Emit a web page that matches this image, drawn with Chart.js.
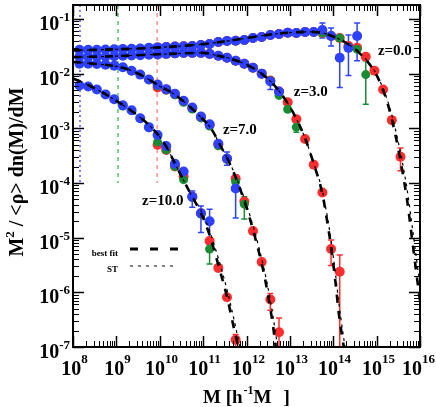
<!DOCTYPE html>
<html>
<head>
<meta charset="utf-8">
<title>halo mass function</title>
<script src="https://cdn.jsdelivr.net/npm/chart.js@4.4.1/dist/chart.umd.min.js"></script>
<style>
	html, body { margin: 0; padding: 0; background: #fff; }
	canvas { display: block; }
</style>
</head>
<body>
<canvas id="massChart" width="436" height="407"></canvas>
<script>
// mass bins [h^-1 Msun], 0.2 dex wide
const massBins = [
	1.41e8, 2.24e8, 3.55e8, 5.62e8, 8.91e8,
	1.41e9, 2.24e9, 3.55e9, 5.62e9, 8.91e9,
	1.41e10, 2.24e10, 3.55e10, 5.62e10, 8.91e10,
	1.41e11, 2.24e11, 3.55e11, 5.62e11, 8.91e11,
	1.41e12, 2.24e12, 3.55e12, 5.62e12, 8.91e12,
	1.41e13, 2.24e13, 3.55e13, 5.62e13, 8.91e13,
	1.41e14, 2.24e14, 3.55e14, 5.62e14, 8.91e14,
	1.41e15, 2.24e15, 3.55e15,
]

// resolution limits of the three boxes (blue, green, red)
const resolutionMass = [1.45e8, 1.09e9, 8.7e9]

// z = 0
const z0Red = [null, null, null, null, null, null, null, null, null,
	0.0302, 0.0308, 0.0313, 0.0316, 0.0321, 0.0335, 0.0349, 0.0380, 0.0396, 0.0398, 0.0413,
	0.0449, 0.0468, 0.0509, 0.0531, 0.0562, 0.0553, 0.0577, 0.0577, 0.0553, 0.0488,
	0.0449, 0.0321, 0.0296, 0.0203, 0.0113, 0.00513, 0.00141, 0.000301]
const z0Green = [null, null, null, null, null,
	0.0282, 0.0284, 0.0288, 0.0296, 0.0302, 0.0308, 0.0313, 0.0316, 0.0321, 0.0335,
	0.0349, 0.0380, 0.0396, 0.0398, 0.0413, 0.0449, 0.0468, 0.0509, 0.0531, 0.0562,
	0.0553, 0.0577, 0.0577, 0.0553, 0.0488, 0.0449, 0.0300, 0.0280, 0.0096]
const z0Blue = [0.0272, 0.0272, 0.0272, 0.0275, 0.0278,
	0.0282, 0.0284, 0.0288, 0.0296, 0.0302, 0.0308, 0.0313, 0.0316, 0.0321, 0.0335,
	0.0349, 0.0380, 0.0396, 0.0398, 0.0413, 0.0449, 0.0468, 0.0509, 0.0531, 0.0562,
	0.0553, 0.0577, 0.0577, 0.0627, 0.0488, 0.0195, 0.0296, 0.0488]

// z = 3
const z3Red = [null, null, null, null, null, null, null, null, null,
	0.0225, 0.0230, 0.0235, 0.0240, 0.0240, 0.0240, 0.0230, 0.0212, 0.0195, 0.0172, 0.0152,
	0.0128, 0.0100, 0.0075, 0.00472, 0.00299, 0.00147, 0.000637, 0.000215, 6.7e-5, 6.21e-6,
	2.38e-6]
const z3Green = [null, null, null, null, null,
	0.0212, 0.0214, 0.0218, 0.0222, 0.0225, 0.0230, 0.0235, 0.0240, 0.0240, 0.0240,
	0.0230, 0.0212, 0.0195, 0.0172, 0.0152, 0.0128, 0.0100, 0.0074, 0.0040, 0.00223,
	0.00105]
const z3Blue = [0.0203, 0.0203, 0.0203, 0.0204, 0.0208,
	0.0212, 0.0214, 0.0218, 0.0222, 0.0225, 0.0230, 0.0235, 0.0240, 0.0240, 0.0240,
	0.0230, 0.0212, 0.0195, 0.0172, 0.0152, 0.0128, 0.0100, 0.0072, 0.0047]

// z = 7
const z7Red = [null, null, null, null, null, null, null, null, null,
	0.0056, 0.0051, 0.0042, 0.00311, 0.00232, 0.0016, 0.00114, 0.00050, 0.000277, 0.00012,
	4.6e-5, 1.32e-5, 3.6e-6, 7.4e-7, 1.86e-7]
const z7Green = [null, null, null, null, null,
	0.0131, 0.0113, 0.0096, 0.0077, 0.0060, 0.0050, 0.0041, 0.0030, 0.00225, 0.00155,
	0.0011, 0.00048, 0.00027, 0.000105, 4.1e-5]
const z7Blue = [0.0152, 0.0152, 0.0150, 0.0146, 0.0140,
	0.0131, 0.0113, 0.0096, 0.0078, 0.0063, 0.0052, 0.0043, 0.0032, 0.0024, 0.00165,
	0.00118, 0.00052, 0.00028, 7.9e-5]

// z = 10
const z10Red = [null, null, null, null, null, null, null, null, null,
	0.0005, 0.000403, 0.0002, 0.000132, 5.6e-5, 2.8e-5, 8.7e-6, 2.8e-6, 8.1e-7, 1.35e-7]
const z10Green = [null, null, null, null, null,
	0.00255, 0.0021, 0.0015, 0.00102, 0.00056, 0.000403, 0.0002, 0.000115, 5.4e-5, 2.7e-5,
	6.2e-6]
const z10Blue = [0.00607, 0.00581, 0.00513, 0.00417, 0.00339,
	0.00263, 0.00214, 0.00153, 0.00105, 0.000753, 0.000476, 0.000224, 0.000162, 5.6e-5, 2.8e-5,
	2.0e-5]

// error bars: [bin, upper, lower]
const z0RedErr = [[36, 0.0016, 0.00125], [37, 4.37e-4, 1.68e-4]]
const z0GreenErr = [[30, 0.050, 0.040], [33, 0.0172, 0.00274]]
const z0BlueErr = [[24, 0.060, 0.052], [28, 0.084, 0.0449], [29, 0.068, 0.0321], [30, 0.0413, 0.00557], [31, 0.0509, 0.0092], [32, 0.084, 0.0172]]
const z3RedErr = [[29, 9.1e-6, 3.1e-6], [30, 4.8e-6, 5e-8]]
const z3GreenErr = [[25, 0.00127, 0.00085]]
const z3BlueErr = [[22, 0.0081, 0.0051]]
const z7RedErr = [[22, 9.5e-7, 4.7e-7], [23, 3.4e-7, 5e-8]]
const z7GreenErr = [[19, 5.6e-5, 2.2e-5]]
const z7BlueErr = [[17, 0.00037, 0.00021], [18, 0.00014, 2.3e-5]]
const z10RedErr = [[18, 1.7e-7, 5e-8]]
const z10GreenErr = [[15, 8.7e-6, 3.3e-6]]
const z10BlueErr = [[13, 7.1e-5, 3.6e-5], [14, 3.8e-5, 1.24e-5], [15, 3.3e-5, 7.6e-6]]

// best fit and Sheth-Tormen curves
const fitZ0Mass = [1e8, 3.16e8, 1e9, 3.16e9, 1e10, 3.16e10, 1e11, 3.16e11, 1e12, 3.16e12, 1e13, 2.51e13,
	5.01e13, 1e14, 2e14, 3.98e14, 7.94e14, 1.26e15, 2e15, 3.16e15, 5.01e15, 6.76e15, 8.51e15, 1e16]
const fitZ0 = [0.0266, 0.0272, 0.0279, 0.0288, 0.0302, 0.0320, 0.0347, 0.0389, 0.0447, 0.0513, 0.0562, 0.0582,
	0.0562, 0.0479, 0.0363, 0.0240, 0.0126, 0.0063, 0.00209, 4.17e-4, 5.0e-5, 7.9e-6, 1.86e-6, 7.1e-7]
const stZ0 = [0.0266, 0.0272, 0.0279, 0.0288, 0.0302, 0.0320, 0.0347, 0.0389, 0.0447, 0.0513, 0.0562, 0.0582,
	0.0562, 0.0479, 0.0363, 0.0242, 0.0130, 0.0066, 0.0024, 5.6e-4, 7.9e-5, 1.41e-5, 3.5e-6, 1.41e-6]

const fitZ3Mass = [1e8, 1e9, 1e10, 3.16e10, 1e11, 2e11, 3.98e11, 7.94e11, 1.58e12, 3.16e12, 6.31e12, 1.26e13,
	2.24e13, 3.55e13, 5.62e13, 7.59e13, 8.91e13, 1.12e14, 1.35e14, 1.58e14, 1.86e14, 2.24e14]
const fitZ3 = [0.0200, 0.0209, 0.0226, 0.0234, 0.0240, 0.0216, 0.0191, 0.0158, 0.0120, 0.00794, 0.00427, 0.00178,
	6.6e-4, 2.24e-4, 6.3e-5, 1.58e-5, 6.8e-6, 1.58e-6, 4.0e-7, 1.66e-7, 7.1e-8, 1.5e-8]
const stZ3 = [0.0200, 0.0209, 0.0226, 0.0234, 0.0240, 0.0216, 0.0191, 0.0158, 0.0120, 0.00794, 0.00427, 0.00178,
	6.6e-4, 2.3e-4, 7.1e-5, 2.0e-5, 8.9e-6, 2.24e-6, 6.3e-7, 2.5e-7, 1.0e-7, 3.0e-8]

const fitZ7Mass = [1e8, 3.16e8, 1e9, 2e9, 3.98e9, 1e10, 2e10, 3.98e10, 7.94e10, 1.58e11, 2.51e11, 3.98e11,
	6.31e11, 1e12, 1.58e12, 2.51e12, 3.55e12, 4.79e12, 5.62e12]
const fitZ7 = [0.0164, 0.0151, 0.0136, 0.0117, 0.00912, 0.00589, 0.00437, 0.00288, 0.00174, 9.5e-4, 4.8e-4, 2.4e-4,
	1.0e-4, 3.55e-5, 1.0e-5, 2.24e-6, 5.0e-7, 8.9e-8, 2.0e-8]
const stZ7 = [0.0164, 0.0151, 0.0136, 0.0117, 0.00912, 0.00589, 0.00437, 0.00288, 0.00174, 9.5e-4, 4.8e-4, 2.45e-4,
	1.07e-4, 4.0e-5, 1.2e-5, 2.8e-6, 7.1e-7, 1.58e-7, 6.3e-8]

const fitZ10Mass = [1e8, 2e8, 3.98e8, 7.94e8, 1.58e9, 3.16e9, 6.31e9, 1.26e10, 2.51e10, 5.01e10, 8.91e10,
	1.41e11, 2.24e11, 3.55e11, 5.01e11, 6.76e11, 8.91e11]
const fitZ10 = [0.00813, 0.00646, 0.0049, 0.00355, 0.00251, 0.0017, 0.00105, 5.4e-4, 1.9e-4, 6.6e-5, 2.8e-5,
	1.12e-5, 3.16e-6, 8.3e-7, 2.4e-7, 7.9e-8, 1.5e-8]
const stZ10 = [0.00813, 0.00646, 0.0049, 0.00355, 0.00251, 0.0017, 0.00105, 5.4e-4, 1.9e-4, 6.6e-5, 3.16e-5,
	1.32e-5, 4.2e-6, 1.12e-6, 3.5e-7, 1.12e-7, 3.0e-8]

const redshiftLabels = ['z=0.0', 'z=3.0', 'z=7.0', 'z=10.0']

const serif = '"Liberation Serif", "Times New Roman", serif'
const RED = 'rgb(255,45,45)'
const GREEN = 'rgb(25,140,50)'
const BLUE = 'rgb(45,65,255)'

const points = values => values
	.map((v, i) => (v == null ? null : { x: massBins[i], y: v }))
	.filter(Boolean)
const curve = (mass, values) => mass.map((m, i) => ({ x: m, y: values[i] }))

const simSet = (values, color, errors, radius) => ({
	data: points(values),
	backgroundColor: color,
	borderWidth: 0,
	pointRadius: radius,
	pointHoverRadius: radius,
	showLine: false,
	errors,
	errorColor: color,
})
const fitSet = (mass, values) => ({
	data: curve(mass, values),
	showLine: true,
	borderColor: '#000',
	borderWidth: 2.6,
	borderDash: [8, 8],
	pointRadius: 0,
	cubicInterpolationMode: 'monotone',
})
const stSet = (mass, values) => ({
	data: curve(mass, values),
	showLine: true,
	borderColor: '#000',
	borderWidth: 1.2,
	borderDash: [3, 4],
	pointRadius: 0,
	cubicInterpolationMode: 'monotone',
})
const limitSet = (m, color, dash) => ({
	data: [{ x: m, y: 0.18 }, { x: m, y: 1e-4 }],
	showLine: true,
	borderColor: color,
	borderWidth: 1.4,
	borderDash: dash,
	pointRadius: 0,
})

// error bars under the points
const errorBars = {
	id: 'errorBars',
	beforeDatasetsDraw(chart) {
		const { ctx, chartArea: a, scales: { x, y } } = chart
		ctx.save()
		ctx.beginPath()
		ctx.rect(a.left, a.top, a.width, a.height)
		ctx.clip()
		ctx.lineWidth = 1.5
		chart.data.datasets.forEach(ds => {
			if (!ds.errors) return
			ctx.strokeStyle = ds.errorColor
			ds.errors.forEach(([i, hi, lo]) => {
				const px = x.getPixelForValue(massBins[i])
				const top = y.getPixelForValue(hi)
				const bot = y.getPixelForValue(lo)
				ctx.beginPath()
				ctx.moveTo(px, top)
				ctx.lineTo(px, bot)
				ctx.moveTo(px - 3, top)
				ctx.lineTo(px + 3, top)
				ctx.moveTo(px - 3, bot)
				ctx.lineTo(px + 3, bot)
				ctx.stroke()
			})
		})
		ctx.restore()
	},
}

const logTicks = scale => {
	const out = []
	const lo = Math.floor(Math.log10(scale.min))
	const hi = Math.ceil(Math.log10(scale.max))
	for (let e = lo; e <= hi; e++) {
		for (let m = 1; m < 10; m++) {
			const v = m * Math.pow(10, e)
			if (v >= scale.min * 0.999 && v <= scale.max * 1.001) out.push({ v, e, major: m === 1 })
		}
	}
	return out
}

const powerText = (ctx, exp, left, base, supBase) => {
	ctx.font = 'bold 20px ' + serif
	ctx.fillText('10', left, base)
	const w = ctx.measureText('10').width
	ctx.font = 'bold 13px ' + serif
	ctx.fillText(String(exp), left + w, supBase)
}
const powerWidth = (ctx, exp) => {
	ctx.font = 'bold 20px ' + serif
	const w = ctx.measureText('10').width
	ctx.font = 'bold 13px ' + serif
	return [w, ctx.measureText(String(exp)).width]
}

// frame, inward ticks, labels, titles, legend
const frame = {
	id: 'frame',
	afterDraw(chart) {
		const { ctx, chartArea: a, scales: { x, y } } = chart
		ctx.save()
		ctx.strokeStyle = '#000'
		ctx.fillStyle = '#000'

		logTicks(x).forEach(t => {
			const px = Math.round(x.getPixelForValue(t.v)) + 0.5
			const len = t.major ? 11 : 6
			ctx.lineWidth = t.major ? 1.5 : 1
			ctx.beginPath()
			ctx.moveTo(px, a.bottom)
			ctx.lineTo(px, a.bottom - len)
			ctx.moveTo(px, a.top)
			ctx.lineTo(px, a.top + len)
			ctx.stroke()
			if (t.major) {
				const [w, s] = powerWidth(ctx, t.e)
				const left = Math.min(px - (w + s) / 2 + 1, chart.width - w - s - 1)
				ctx.textAlign = 'left'
				powerText(ctx, t.e, left, a.bottom + 28, a.bottom + 16)
			}
		})
		logTicks(y).forEach(t => {
			const py = Math.round(y.getPixelForValue(t.v)) + 0.5
			const len = t.major ? 11 : 6
			ctx.lineWidth = t.major ? 1.5 : 1
			ctx.beginPath()
			ctx.moveTo(a.left, py)
			ctx.lineTo(a.left + len, py)
			ctx.moveTo(a.right, py)
			ctx.lineTo(a.right - len, py)
			ctx.stroke()
			if (t.major) {
				const [w, s] = powerWidth(ctx, t.e)
				ctx.textAlign = 'left'
				powerText(ctx, t.e, a.left - 3 - w - s, py + 10, py + 1)
			}
		})

		ctx.lineWidth = 2
		ctx.strokeRect(a.left, a.top, a.width, a.height)

		// redshift labels, anchored in data coordinates
		const labelMass = [1.07e15, 1.23e13, 2.86e11, 3.9e9]
		const labelValue = [0.026, 0.00453, 9.27e-4, 4.6e-5]
		ctx.font = 'bold 15px ' + serif
		ctx.textAlign = 'left'
		ctx.textBaseline = 'middle'
		redshiftLabels.forEach((txt, i) => {
			ctx.fillText(txt, x.getPixelForValue(labelMass[i]), y.getPixelForValue(labelValue[i]))
		})
		ctx.textBaseline = 'alphabetic'

		// legend
		ctx.font = 'bold 9px ' + serif
		ctx.textAlign = 'right'
		ctx.fillText('best fit', a.left + 45, a.top + 251)
		ctx.fillText('ST', a.left + 45, a.top + 267)
		ctx.lineWidth = 2.8
		ctx.setLineDash([8, 12])
		ctx.beginPath()
		ctx.moveTo(a.left + 57, a.top + 244)
		ctx.lineTo(a.left + 108, a.top + 244)
		ctx.stroke()
		ctx.lineWidth = 1.2
		ctx.setLineDash([3, 5])
		ctx.beginPath()
		ctx.moveTo(a.left + 57, a.top + 261)
		ctx.lineTo(a.left + 105, a.top + 261)
		ctx.stroke()
		ctx.setLineDash([])

		// x title
		ctx.textAlign = 'left'
		let tx = a.left + 130
		const tb = a.bottom + 56
		ctx.font = 'bold 19px ' + serif
		ctx.fillText('M [h', tx, tb)
		tx += ctx.measureText('M [h').width + 1
		ctx.font = 'bold 12px ' + serif
		ctx.fillText('-1', tx, tb - 9)
		tx += ctx.measureText('-1').width
		ctx.font = 'bold 19px ' + serif
		ctx.fillText('M', tx, tb)
		tx += ctx.measureText('M').width + 12
		ctx.fillText(']', tx, tb)

		// y title, squeezed to the length of the original
		ctx.save()
		ctx.translate(23, 172)
		ctx.rotate(-Math.PI / 2)
		ctx.font = 'bold 20px ' + serif
		const part1 = 'M'
		const part2 = ' / <ρ> dn(M)/dM'
		const w1 = ctx.measureText(part1).width
		const w3 = ctx.measureText(part2).width
		ctx.font = 'bold 13px ' + serif
		const w2 = ctx.measureText('2').width
		const total = w1 + w2 + w3
		ctx.scale(Math.min(1, 169 / total), 1)
		let ty = -total / 2
		ctx.font = 'bold 20px ' + serif
		ctx.fillText(part1, ty, 0)
		ty += w1
		ctx.font = 'bold 13px ' + serif
		ctx.fillText('2', ty, -9)
		ty += w2
		ctx.font = 'bold 20px ' + serif
		ctx.fillText(part2, ty, 0)
		ctx.restore()

		ctx.restore()
	},
}

const datasets = [
	fitSet(fitZ0Mass, fitZ0), fitSet(fitZ3Mass, fitZ3), fitSet(fitZ7Mass, fitZ7), fitSet(fitZ10Mass, fitZ10),
	stSet(fitZ0Mass, stZ0), stSet(fitZ3Mass, stZ3), stSet(fitZ7Mass, stZ7), stSet(fitZ10Mass, stZ10),
	simSet(z0Blue, BLUE, z0BlueErr, 5), simSet(z3Blue, BLUE, z3BlueErr, 5),
	simSet(z7Blue, BLUE, z7BlueErr, 5), simSet(z10Blue, BLUE, z10BlueErr, 5),
	simSet(z0Green, GREEN, z0GreenErr, 4.5), simSet(z3Green, GREEN, z3GreenErr, 4.5),
	simSet(z7Green, GREEN, z7GreenErr, 4.5), simSet(z10Green, GREEN, z10GreenErr, 4.5),
	simSet(z0Red, RED, z0RedErr, 5), simSet(z3Red, RED, z3RedErr, 5),
	simSet(z7Red, RED, z7RedErr, 5), simSet(z10Red, RED, z10RedErr, 5),
	limitSet(resolutionMass[0], 'rgb(70,70,255)', [2, 3]),
	limitSet(resolutionMass[1], 'rgb(80,190,100)', [4, 4]),
	limitSet(resolutionMass[2], 'rgb(255,140,140)', [4, 4]),
]

const chartRef = document.querySelector('#massChart')

const massChart = new Chart(chartRef, {
	type: 'scatter',
	data: { datasets },
	options: {
		responsive: false,
		animation: false,
		devicePixelRatio: 1,
		events: [],
		layout: { padding: { top: 2, right: 16, left: 0, bottom: 0 } },
		plugins: { legend: { display: false }, tooltip: { enabled: false } },
		scales: {
			x: {
				type: 'logarithmic',
				min: 1e8,
				max: 1e16,
				ticks: { display: false },
				grid: { display: false },
				border: { display: false },
				afterFit: s => {
					s.height = 60
				},
			},
			y: {
				type: 'logarithmic',
				min: 1e-7,
				max: 0.18,
				ticks: { display: false },
				grid: { display: false },
				border: { display: false },
				afterFit: s => {
					s.width = 73
				},
			},
		},
	},
	plugins: [errorBars, frame],
})
</script>
</body>
</html>
